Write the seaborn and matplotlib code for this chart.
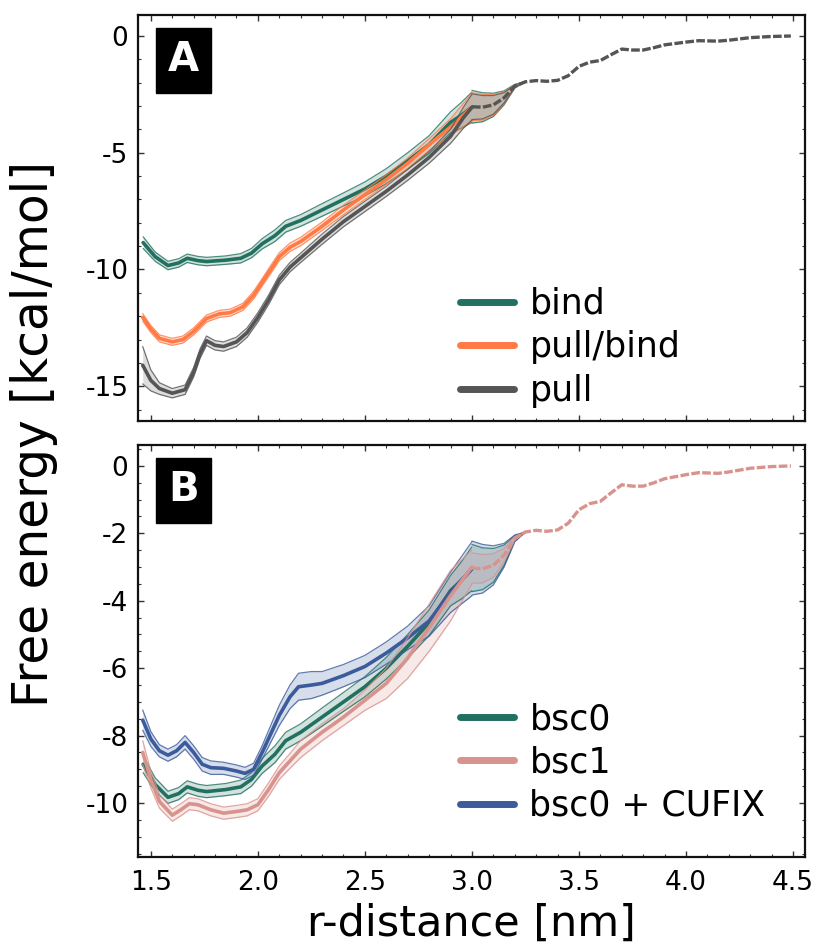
import numpy as np
import pandas as pd
import matplotlib
matplotlib.use("Agg")
import matplotlib.pyplot as plt
from matplotlib.lines import Line2D
from matplotlib.ticker import MultipleLocator
import seaborn as sns

# ---------------- data ----------------
bind_x = [1.464, 1.52, 1.58, 1.63, 1.67, 1.72, 1.76, 1.85, 1.92, 1.97, 2.02, 2.08, 2.13, 2.2, 2.3, 2.4, 2.5, 2.6, 2.7, 2.8, 2.9, 2.95, 3.0]
bind_y = [-8.85, -9.45, -9.83, -9.72, -9.52, -9.62, -9.66, -9.6, -9.52, -9.3, -8.9, -8.55, -8.15, -7.9, -7.45, -7.0, -6.55, -6.0, -5.35, -4.65, -3.7, -3.4, -3.05]
bind_err = [0.25, 0.2, 0.18, 0.18, 0.18, 0.18, 0.18, 0.18, 0.2, 0.2, 0.22, 0.25, 0.25, 0.25, 0.27, 0.28, 0.3, 0.32, 0.35, 0.38, 0.45, 0.55, 0.65]

pullbind_x = [1.462, 1.5, 1.54, 1.6, 1.65, 1.7, 1.76, 1.82, 1.87, 1.93, 1.98, 2.02, 2.06, 2.1, 2.15, 2.2, 2.3, 2.4, 2.5, 2.6, 2.7, 2.8, 2.9, 3.0]
pullbind_y = [-12.05, -12.55, -12.95, -13.1, -13.0, -12.65, -12.1, -11.9, -11.85, -11.6, -11.1, -10.55, -10.0, -9.45, -9.05, -8.8, -8.15, -7.45, -6.8, -6.15, -5.45, -4.65, -3.9, -3.05]
pullbind_err = [0.16, 0.15, 0.15, 0.15, 0.15, 0.15, 0.15, 0.15, 0.15, 0.15, 0.16, 0.16, 0.17, 0.17, 0.18, 0.18, 0.18, 0.2, 0.2, 0.2, 0.22, 0.25, 0.35, 0.6]

pull_x = [1.462, 1.5, 1.54, 1.6, 1.66, 1.7, 1.73, 1.76, 1.8, 1.84, 1.9, 1.95, 2.0, 2.05, 2.1, 2.15, 2.2, 2.3, 2.4, 2.5, 2.6, 2.7, 2.8, 2.9, 2.96, 3.0]
pull_y = [-14.1, -14.75, -15.1, -15.3, -15.15, -14.4, -13.6, -13.05, -13.25, -13.3, -13.1, -12.7, -12.05, -11.3, -10.45, -9.9, -9.5, -8.7, -7.95, -7.3, -6.65, -5.95, -5.2, -4.3, -3.5, -3.05]
pull_err = [0.8, 0.45, 0.25, 0.2, 0.2, 0.2, 0.2, 0.2, 0.2, 0.2, 0.2, 0.2, 0.2, 0.2, 0.2, 0.2, 0.2, 0.22, 0.22, 0.22, 0.22, 0.23, 0.25, 0.3, 0.45, 0.55]

# bsc0 is the same simulation as "bind"
bsc0_x, bsc0_y, bsc0_err = bind_x, bind_y, bind_err

bsc1_x = [1.462, 1.5, 1.54, 1.6, 1.64, 1.68, 1.72, 1.78, 1.84, 1.9, 1.95, 2.0, 2.05, 2.1, 2.15, 2.2, 2.3, 2.4, 2.5, 2.6, 2.7, 2.8, 2.9, 3.0]
bsc1_y = [-8.5, -9.3, -9.95, -10.36, -10.2, -10.02, -10.05, -10.2, -10.3, -10.25, -10.2, -10.05, -9.6, -9.1, -8.75, -8.4, -7.9, -7.45, -6.95, -6.45, -5.7, -4.8, -3.85, -3.0]
bsc1_err = [0.35, 0.25, 0.2, 0.18, 0.18, 0.18, 0.18, 0.18, 0.18, 0.18, 0.18, 0.18, 0.2, 0.2, 0.22, 0.25, 0.25, 0.25, 0.3, 0.45, 0.6, 0.7, 0.75, 0.5]

cufix_x = [1.462, 1.5, 1.54, 1.58, 1.62, 1.66, 1.7, 1.74, 1.78, 1.84, 1.9, 1.94, 1.98, 2.02, 2.06, 2.1, 2.15, 2.19, 2.25, 2.3, 2.4, 2.5, 2.6, 2.7, 2.8, 2.9, 2.95, 3.0]
cufix_y = [-7.54, -8.1, -8.45, -8.58, -8.45, -8.2, -8.5, -8.85, -8.95, -8.97, -9.05, -9.12, -9.0, -8.5, -7.95, -7.4, -6.85, -6.55, -6.5, -6.45, -6.22, -5.95, -5.55, -5.1, -4.6, -3.75, -3.4, -3.05]
cufix_err = [0.3, 0.22, 0.18, 0.18, 0.18, 0.2, 0.2, 0.2, 0.2, 0.18, 0.18, 0.18, 0.18, 0.2, 0.25, 0.3, 0.35, 0.4, 0.4, 0.35, 0.33, 0.33, 0.33, 0.35, 0.45, 0.6, 0.7, 0.8]

# shared long-range tail (dashed)
tail_x = [3.0, 3.05, 3.1, 3.15, 3.2, 3.25, 3.3, 3.35, 3.4, 3.45, 3.5, 3.55, 3.6, 3.65, 3.7, 3.75, 3.8, 3.85, 3.9, 4.0, 4.06, 4.15, 4.2, 4.3, 4.4, 4.49]
tail_y = [-3.03, -3.05, -2.95, -2.65, -2.15, -1.96, -1.91, -1.94, -1.9, -1.7, -1.3, -1.12, -1.05, -0.8, -0.56, -0.6, -0.6, -0.5, -0.38, -0.26, -0.2, -0.22, -0.18, -0.07, -0.02, 0.0]
# uncertainty of the tail over 3.0 - 3.25 nm (first six tail points)
bind_tail_err = [0.7, 0.62, 0.5, 0.3, 0.08, 0.0]
pullbind_tail_err = [0.6, 0.55, 0.45, 0.25, 0.06, 0.0]
pull_tail_err = [0.55, 0.5, 0.4, 0.22, 0.05, 0.0]
bsc0_tail_err = bind_tail_err
bsc1_tail_err = [0.45, 0.42, 0.35, 0.2, 0.05, 0.0]
cufix_tail_err = [0.8, 0.72, 0.58, 0.35, 0.1, 0.0]

labels_A = ["bind", "pull/bind", "pull"]
labels_B = ["bsc0", "bsc1", "bsc0 + CUFIX"]
xticks = [1.5, 2.0, 2.5, 3.0, 3.5, 4.0, 4.5]
yticks_A = [0, -5, -10, -15]
yticks_B = [0, -2, -4, -6, -8, -10]

# ---------------- style ----------------
C_TEAL = "#22705F"
C_ORANGE = "#FF7A45"
C_GRAY = "#555555"
C_PINK = "#D9938D"
C_BLUE = "#3B5B9C"

sns.set_style("ticks")
plt.rcParams["font.family"] = ["DejaVu Sans"]
plt.rcParams["axes.linewidth"] = 1.6
plt.rcParams["axes.edgecolor"] = "#111111"
plt.rcParams["text.color"] = "black"
plt.rcParams["xtick.labelcolor"] = "black"
plt.rcParams["ytick.labelcolor"] = "black"

W, H = 814, 952
fig = plt.figure(figsize=(W / 100, H / 100), dpi=100)
left, right = 138 / W, 805 / W
axA = fig.add_axes([left, 1 - 421 / H, right - left, (421 - 15) / H])
axB = fig.add_axes([left, 1 - 857 / H, right - left, (857 - 445) / H])


def draw_series(ax, x, y, err, color):
    df = pd.DataFrame({"x": x, "y": y})
    lo = np.array(y) - np.array(err)
    hi = np.array(y) + np.array(err)
    ax.fill_between(x, lo, hi, color=color, alpha=0.2, lw=0)
    ax.plot(x, lo, color=color, lw=0.9, alpha=0.8)
    ax.plot(x, hi, color=color, lw=0.9, alpha=0.8)
    sns.lineplot(data=df, x="x", y="y", ax=ax, color=color, lw=2.6, legend=False)


def draw_tail_band(ax, terr, color):
    n = len(terr)
    tx = np.array(tail_x[:n])
    ty = np.array(tail_y[:n])
    lo = ty - np.array(terr)
    hi = ty + np.array(terr)
    ax.fill_between(tx, lo, hi, color=color, alpha=0.2, lw=0)
    ax.plot(tx, lo, color=color, lw=0.9, alpha=0.8)
    ax.plot(tx, hi, color=color, lw=0.9, alpha=0.8)


def draw_tail(ax, color):
    df = pd.DataFrame({"x": tail_x, "y": tail_y})
    sns.lineplot(data=df, x="x", y="y", ax=ax, color=color, lw=2.4,
                 linestyle=(0, (2.6, 0.7)), legend=False)


# Panel A
seriesA = [(bind_x, bind_y, bind_err, bind_tail_err, C_TEAL),
           (pullbind_x, pullbind_y, pullbind_err, pullbind_tail_err, C_ORANGE),
           (pull_x, pull_y, pull_err, pull_tail_err, C_GRAY)]
for x, y, e, te, c in seriesA:
    draw_tail_band(axA, te, c)
    draw_series(axA, x, y, e, c)
draw_tail(axA, C_GRAY)

# Panel B
seriesB = [(bsc0_x, bsc0_y, bsc0_err, bsc0_tail_err, C_TEAL),
           (cufix_x, cufix_y, cufix_err, cufix_tail_err, C_BLUE),
           (bsc1_x, bsc1_y, bsc1_err, bsc1_tail_err, C_PINK)]
for x, y, e, te, c in seriesB:
    draw_tail_band(axB, te, c)
    draw_series(axB, x, y, e, c)
draw_tail(axB, C_PINK)

# axes formatting
for ax in (axA, axB):
    ax.set_xlim(1.44, 4.556)
    ax.set_xticks(xticks)
    ax.xaxis.set_minor_locator(MultipleLocator(0.1))
    ax.tick_params(which="both", direction="in", top=True, right=True,
                   color="#333333", labelsize=19, labelcolor="black")
    ax.tick_params(which="major", length=4.5, width=1.0)
    ax.tick_params(which="minor", length=2.5, width=0.8)
    ax.tick_params(axis="y", pad=7)
    ax.tick_params(axis="x", pad=9)
    ax.set_xlabel("")
    ax.set_ylabel("")
    for s in ax.spines.values():
        s.set_visible(True)
        s.set_linewidth(1.6)

axA.set_ylim(-16.49, 0.9)
axA.set_yticks(yticks_A)
axA.set_yticklabels([str(v) for v in yticks_A])
axA.yaxis.set_minor_locator(MultipleLocator(1))
axA.tick_params(axis="x", labelbottom=False)

axB.set_ylim(-11.6, 0.62)
axB.set_yticks(yticks_B)
axB.set_yticklabels([str(v) for v in yticks_B])
axB.yaxis.set_minor_locator(MultipleLocator(0.5))
axB.set_xticklabels([f"{v:.1f}" for v in xticks])

# panel labels
for ax, lab, yf in ((axA, "A", 0.888), (axB, "B", 0.8896)):
    ax.text(0.068, yf, lab, transform=ax.transAxes, ha="center", va="center",
            fontsize=29, fontweight="bold", color="white",
            bbox=dict(boxstyle="square,pad=0.3", fc="black", ec="black"))

# legends
def make_legend(ax, labels, colors, anchor):
    handles = [Line2D([0], [0], color=c, lw=5) for c in colors]
    ax.legend(handles, labels, loc="upper left", bbox_to_anchor=anchor,
              bbox_transform=fig.transFigure, frameon=False, fontsize=25,
              handlelength=1.55, handletextpad=0.45, labelspacing=0.27,
              borderpad=0, borderaxespad=0, labelcolor="black")

make_legend(axA, labels_A, [C_TEAL, C_ORANGE, C_GRAY], (460 / W, 1 - 287 / H))
make_legend(axB, labels_B, [C_TEAL, C_PINK, C_BLUE], (460 / W, 1 - 702 / H))

fig.text(471.5 / W, 1 - 924 / H, "r-distance [nm]", ha="center", va="center", fontsize=31)
fig.text(34 / W, 1 - 434 / H, "Free energy [kcal/mol]", ha="center", va="center",
         rotation=90, fontsize=35)

fig.savefig("out.png", dpi=100)
